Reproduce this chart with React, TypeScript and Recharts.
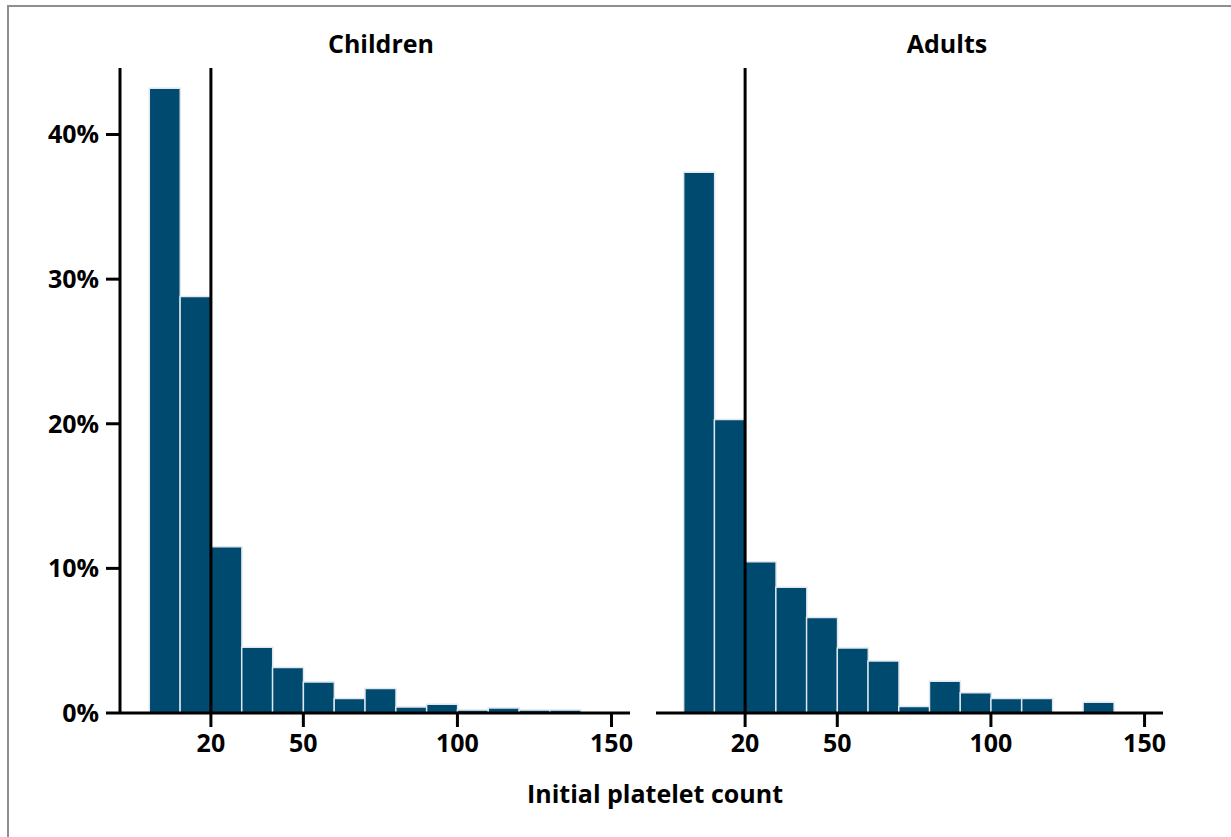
import React from 'react';
import { BarChart, Bar, XAxis, YAxis, ReferenceLine } from 'recharts';

// histogram bins of width 10 (bin centre used as x)
const binCentres = [5, 15, 25, 35, 45, 55, 65, 75, 85, 95, 105, 115, 125, 135, 145];
const childrenPct = [43.2, 28.8, 11.5, 4.55, 3.15, 2.15, 1.0, 1.7, 0.42, 0.6, 0.2, 0.35, 0.2, 0.2, 0];
const adultsPct = [37.4, 20.3, 10.45, 8.7, 6.6, 4.5, 3.6, 0.45, 2.2, 1.4, 1.0, 1.0, 0, 0.75, 0];
const xTicks = [20, 50, 100, 150];
const yTicks = [0, 10, 20, 30, 40];
const cutoff = 20;

const FONT = '"Open Sans", "Noto Sans", sans-serif';
const BAR_FILL = '#004a70';
const Y_DOMAIN: [number, number] = [0, 44.6];

const toRows = (vals: number[]) => binCentres.map((x, i) => ({ x, pct: vals[i] }));

const tickStyle = { fill: '#000', fontSize: 25, fontWeight: 'bold', fontFamily: FONT };
const axisStroke = { stroke: '#000', strokeWidth: 3 };

interface PanelProps {
  values: number[];
  width: number;
  marginLeft: number;
  marginRight: number;
  xDomain: [number, number];
  showY: boolean;
}

const Panel: React.FC<PanelProps> = ({ values, width, marginLeft, marginRight, xDomain, showY }) => (
  <BarChart
    width={width}
    height={760}
    data={toRows(values)}
    margin={{ top: 68, right: marginRight, bottom: 0, left: marginLeft }}
    barCategoryGap={0}
    barGap={0}
  >
    <XAxis
      dataKey="x"
      type="number"
      domain={xDomain}
      ticks={xTicks}
      height={47}
      tickSize={14}
      tickMargin={7}
      axisLine={axisStroke}
      tickLine={axisStroke}
      tick={tickStyle}
      allowDataOverflow
    />
    <YAxis
      hide={!showY}
      domain={Y_DOMAIN}
      ticks={yTicks}
      width={showY ? 120 : 0}
      tickSize={14}
      tickMargin={7}
      axisLine={axisStroke}
      tickLine={axisStroke}
      tick={tickStyle}
      tickFormatter={(v: number) => `${v}%`}
      allowDataOverflow
    />
    <Bar dataKey="pct" fill={BAR_FILL} stroke="#dfe8ee" strokeWidth={1.5} isAnimationActive={false} />
    <ReferenceLine x={cutoff} stroke="#000" strokeWidth={3} />
  </BarChart>
);

export default function App() {
  return (
    <div style={{ position: 'absolute', left: 0, top: 0, width: 1231, height: 837, background: '#fff', overflow: 'hidden' }}>
      <div
        style={{
          position: 'absolute',
          left: 7,
          top: 5,
          width: 1240,
          height: 850,
          borderTop: '2px solid #8e8e8e',
          borderLeft: '2px solid #8e8e8e',
        }}
      />
      <div style={{ position: 'absolute', left: 0, top: 0 }}>
        <Panel values={childrenPct} width={660} marginLeft={0} marginRight={30} xDomain={[-9.5, 156]} showY />
      </div>
      <div style={{ position: 'absolute', left: 600, top: 0 }}>
        <Panel values={adultsPct} width={600} marginLeft={56} marginRight={37} xDomain={[-9, 156]} showY={false} />
      </div>
      <svg width={1231} height={837} style={{ position: 'absolute', left: 0, top: 0, pointerEvents: 'none' }}>
        <text x={381} y={53} textAnchor="middle" fontFamily={FONT} fontWeight="bold" fontSize={25} fill="#000">
          Children
        </text>
        <text x={947} y={53} textAnchor="middle" fontFamily={FONT} fontWeight="bold" fontSize={25} fill="#000">
          Adults
        </text>
        <text x={655} y={803} textAnchor="middle" fontFamily={FONT} fontWeight="bold" fontSize={25} fill="#000">
          Initial platelet count
        </text>
      </svg>
    </div>
  );
}
